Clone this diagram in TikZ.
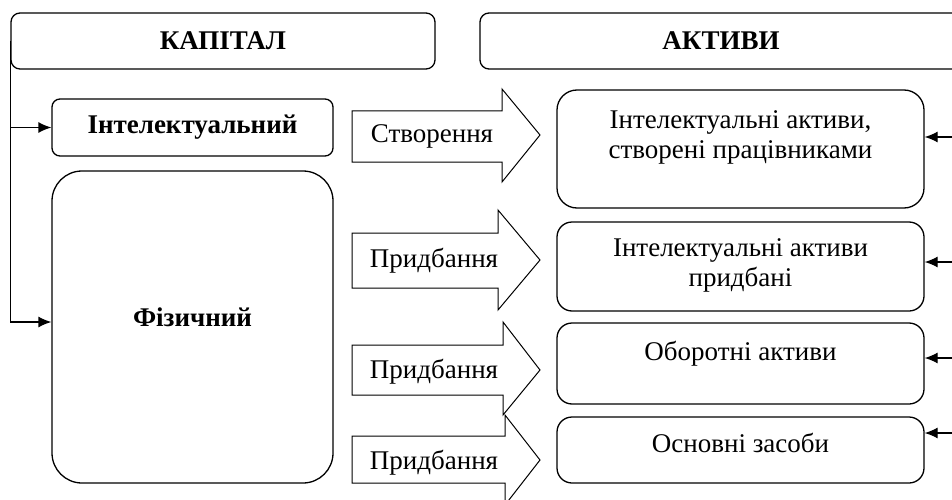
\documentclass[tikz,border=0pt]{standalone}
\usepackage{fontspec}
\setmainfont{Liberation Serif}
\usetikzlibrary{arrows.meta}

\begin{document}
\begin{tikzpicture}[x=1pt,y=-1pt,line width=1.3pt,
    font=\fontsize{27}{30}\selectfont,
    box/.style={draw,rounded corners=#1,inner sep=0pt},
    box/.default=10pt,
    tip/.style={-{Latex[length=13pt,width=11pt]}},
    fat/.style={draw,fill=white,line width=1pt}]
  \useasboundingbox (0,0) rectangle (952,500);
  \clip (0,0) rectangle (952,500);

  % headers
  \node[box=9pt,minimum width=424pt,minimum height=56pt,font=\fontsize{27}{30}\selectfont\bfseries]
    (kapital) at (223,41) {КАПІТАЛ};
  \node[box=9pt,minimum width=482pt,minimum height=56pt,font=\fontsize{27}{30}\selectfont\bfseries]
    (aktyvy) at (721,41) {АКТИВИ};

  % left column
  \node[box=8pt,minimum width=281pt,minimum height=57pt,font=\fontsize{27}{30}\selectfont\bfseries]
    (intel) at (192.5,127.5) {Інтелектуальний};
  \node[box=30pt,minimum width=281pt,minimum height=312pt,
    label={[font=\fontsize{27}{30}\selectfont\bfseries,yshift=10pt]center:Фізичний}]
    (fiz) at (192.5,327) {};

  % right column
  \node[box=20pt,minimum width=367pt,minimum height=118pt,
    label={[align=center,yshift=12pt]center:{Інтелектуальні активи,\\створені працівниками}}]
    (ia1) at (740.5,149) {};
  \node[box=15pt,minimum width=367pt,minimum height=89pt,
    label={[align=center,yshift=1pt]center:{Інтелектуальні активи\\придбані}}]
    (ia2) at (740.5,266.5) {};
  \node[box=15pt,minimum width=367pt,minimum height=81pt,
    label={[yshift=10pt]center:Оборотні активи}]
    (obor) at (740.5,363.5) {};
  \node[box=15pt,minimum width=367pt,minimum height=66pt,
    label={[yshift=7pt]center:Основні засоби}]
    (osn) at (740.5,450) {};

  % block arrows
  \draw[fat] (352,111) -- (502,111) -- (502,89) -- (540,135) -- (502,182) -- (502,162) -- (352,162) -- cycle;
  \node (stvor) at (432,136) {Створення};
  \draw[fat] (352,233) -- (498,233) -- (498,210) -- (540,260) -- (498,310) -- (498,288) -- (352,288) -- cycle;
  \node (prydb1) at (434,261) {Придбання};
  \draw[fat] (352,345) -- (503,345) -- (503,322) -- (540,370) -- (503,415) -- (503,395) -- (352,395) -- cycle;
  \node (prydb2) at (434,372) {Придбання};
  \draw[fat] (352,436) -- (505,436) -- (505,415) -- (540,460) -- (505,505) -- (505,483) -- (352,483) -- cycle;
  \node (prydb3) at (434,463) {Придбання};

  % connectors
  \draw[tip] (kapital.west) |- ([yshift=5pt]fiz.west);
  \draw[tip] (kapital.west |- intel.west) -- (intel.west);

  \coordinate (e1) at (952,137);
  \coordinate (e2) at (952,262);
  \coordinate (e3) at (952,358);
  \coordinate (e4) at (952,433);
  \draw[tip] (e1) -- (e1 -| ia1.east);
  \draw[tip] (e2) -- (e2 -| ia2.east);
  \draw[tip] (e3) -- (e3 -| obor.east);
  \draw[tip] (e4) -- (e4 -| osn.east);
\end{tikzpicture}
\end{document}
